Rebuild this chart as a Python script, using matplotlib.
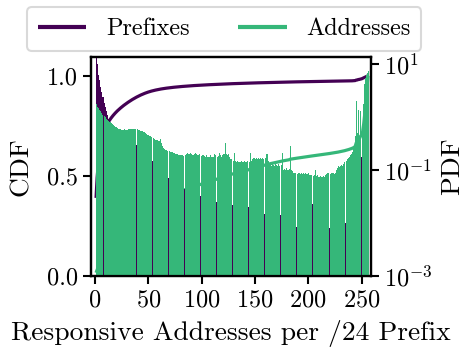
import numpy as np
import matplotlib
matplotlib.use("Agg")
import matplotlib.pyplot as plt
from matplotlib.ticker import FixedLocator, NullLocator

plt.rcParams.update({
    "font.family": "serif",
    "font.serif": ["cmr10"],
    "mathtext.fontset": "cm",
    "axes.formatter.use_mathtext": True,
    "axes.unicode_minus": False,
})

# Responsive addresses per /24 prefix
counts = list(range(1, 257))

# PDF of prefixes (%) per responsive-address count
prefix_pdf = [
    39.0, 10.0, 6.4, 5.0, 3.8, 3.0, 2.4, 1.9, 1.6, 1.3, 1.1, 0.95, 0.85,
    0.78, 0.74, 0.70, 0.66, 0.62, 0.59, 0.56, 0.53, 0.50, 0.48,
    0.46, 0.45, 0.43, 0.42, 0.40, 0.39, 0.38, 0.37, 0.36, 0.35, 0.34, 0.33,
    0.32, 0.31, 0.30, 0.29, 0.28, 0.27, 0.26, 0.25, 0.24, 0.23, 0.22, 0.21, 0.20, 0.19, 0.18, 0.17,
    0.16, 0.15, 0.14, 0.135, 0.13, 0.12, 0.115, 0.11, 0.105, 0.10,
    0.095, 0.09, 0.085, 0.082, 0.078, 0.075, 0.072, 0.07, 0.067, 0.064,
    0.062, 0.06, 0.058, 0.056, 0.054, 0.052, 0.05, 0.049, 0.048, 0.047,
    0.046, 0.045, 0.044, 0.043, 0.042, 0.041, 0.04, 0.039,
    0.038, 0.037, 0.036, 0.035, 0.034, 0.034, 0.033, 0.032, 0.032, 0.031,
    0.03, 0.03, 0.029, 0.029, 0.028, 0.028, 0.027, 0.027, 0.026, 0.026,
    0.028, 0.026, 0.025, 0.025, 0.028, 0.024, 0.024, 0.023, 0.023, 0.023,
    0.022, 0.03, 0.022, 0.022, 0.021, 0.021, 0.021, 0.02, 0.022, 0.02,
    0.02, 0.02, 0.019, 0.019, 0.019, 0.018, 0.018, 0.018, 0.02, 0.018,
    0.017, 0.017, 0.017, 0.02, 0.022, 0.017, 0.017, 0.016, 0.016, 0.016,
    0.016, 0.016, 0.015, 0.015, 0.015, 0.015, 0.015, 0.015, 0.015, 0.015,
    0.015, 0.014, 0.014, 0.014, 0.014, 0.014, 0.014, 0.014, 0.014, 0.014,
    0.014, 0.014, 0.014, 0.0145, 0.0145, 0.02, 0.011, 0.011, 0.011, 0.011,
    0.011, 0.011, 0.011, 0.03,
    0.011, 0.01, 0.01, 0.009, 0.0085, 0.0083, 0.009, 0.009, 0.0085, 0.009,
    0.0085, 0.009, 0.0085, 0.009, 0.0085, 0.009, 0.0085, 0.009, 0.009, 0.023,
    0.008, 0.008, 0.01, 0.008, 0.008, 0.0075, 0.0075, 0.0075, 0.0075, 0.0075,
    0.0075, 0.0075, 0.0075, 0.0075, 0.023, 0.008, 0.008, 0.0085, 0.0085, 0.009,
    0.009, 0.0093, 0.0093, 0.0093, 0.0093, 0.0093, 0.0093, 0.0093, 0.0093, 0.0093,
    0.01, 0.011, 0.012, 0.013, 0.014, 0.015, 0.016, 0.02, 0.025,
    0.04, 0.06, 0.25, 0.07, 0.2, 0.06, 0.18, 0.1, 0.25, 0.2, 0.25, 0.25, 0.3, 0.3,
]

# PDF of addresses (%) per responsive-address count
address_pdf = [
    1.75, 1.6, 1.48, 1.38, 1.29, 1.2, 1.12, 1.06, 1.0, 0.95, 0.9, 0.86, 0.83,
    0.80, 0.77, 0.74, 0.71, 0.69, 0.67, 0.65, 0.63, 0.61, 0.59,
    0.58, 0.57, 0.58, 0.59, 0.58, 0.57, 0.58, 0.59, 0.60, 0.59, 0.60, 0.61,
    0.60, 0.61, 0.60, 0.59, 0.58, 0.57, 0.56, 0.55, 0.54, 0.53,
    0.52, 0.50, 0.49, 0.47, 0.46, 0.45, 0.44, 0.42, 0.41, 0.39,
    0.38, 0.37, 0.38, 0.36, 0.35, 0.39, 0.33, 0.29, 0.26,
    0.25, 0.245, 0.24, 0.235, 0.23, 0.225, 0.22, 0.22, 0.215, 0.21,
    0.205, 0.20, 0.20, 0.195, 0.19, 0.19,
    0.19, 0.19, 0.185, 0.19, 0.2, 0.21, 0.205, 0.2, 0.21, 0.2,
    0.195, 0.19, 0.2, 0.21, 0.2, 0.195, 0.19, 0.2, 0.185, 0.19,
    0.19, 0.185, 0.18, 0.19, 0.18, 0.175, 0.18, 0.19, 0.18, 0.175,
    0.18, 0.2, 0.19, 0.18, 0.185, 0.21, 0.19, 0.18, 0.19, 0.2,
    0.2, 0.32, 0.2, 0.19, 0.2, 0.18, 0.16, 0.16, 0.15, 0.21,
    0.15, 0.145, 0.15, 0.14, 0.145, 0.14, 0.15, 0.145, 0.14, 0.15,
    0.145, 0.14, 0.15, 0.14, 0.21, 0.15, 0.16, 0.17, 0.17, 0.165,
    0.17, 0.16, 0.17, 0.165, 0.17, 0.16, 0.17, 0.165, 0.17, 0.2,
    0.2, 0.15, 0.13, 0.125, 0.12, 0.13, 0.125, 0.12, 0.13, 0.125,
    0.12, 0.13, 0.12, 0.125, 0.21, 0.10, 0.105, 0.10, 0.11, 0.10,
    0.10, 0.105, 0.29, 0.1, 0.095, 0.09, 0.09, 0.087, 0.085, 0.09,
    0.087, 0.085, 0.09, 0.085, 0.088, 0.085, 0.09, 0.086, 0.085, 0.088,
    0.08, 0.082, 0.08, 0.078, 0.08, 0.1, 0.078, 0.08, 0.076, 0.075,
    0.078, 0.076, 0.075, 0.078, 0.076, 0.08, 0.085, 0.09, 0.088, 0.085,
    0.09, 0.088, 0.09, 0.085, 0.09, 0.1, 0.11, 0.12, 0.115, 0.12,
    0.125, 0.12, 0.13, 0.14, 0.15, 0.16, 0.17, 0.18, 0.19, 0.2,
    0.22, 0.25, 0.3, 0.45, 2.0, 0.5, 1.4, 0.4, 1.3, 0.7, 1.8, 4.2, 5.5, 6.3, 7.0, 7.5,
]

series_names = ["Prefixes", "Addresses"]
colors = ["#440154", "#35b779"]
bar_widths = [1.0, 0.94]

x = np.array(counts)
pdfs = [np.array(prefix_pdf), np.array(address_pdf)]
cdfs = [np.cumsum(p) / p.sum() for p in pdfs]

fig = plt.figure(figsize=(4.69, 3.48), dpi=100)
ax = fig.add_axes([0.195, 0.207, 0.595, 0.630])
ax2 = ax.twinx()

for cdf, c, name in zip(cdfs, colors, series_names):
    ax.plot(x, cdf, color=c, lw=2.3, label=name, solid_capstyle="butt")

for pdf, c, w in zip(pdfs, colors, bar_widths):
    ax2.bar(x, pdf, width=w, align="edge", color=c, linewidth=0, snap=True)

ax.set_xlim(-3.3, 258.4)
ax.set_ylim(0, 1.095)
ax2.set_yscale("log")
ax2.set_ylim(1e-3, 14)

ax.set_xticks([0, 50, 100, 150, 200, 250])
ax.set_yticks([0.0, 0.5, 1.0])
ax.set_yticklabels(["0.0", "0.5", "1.0"])
ax2.yaxis.set_major_locator(FixedLocator([1e-3, 1e-1, 1e1]))
ax2.yaxis.set_minor_locator(NullLocator())

fs = 17.5
for a in (ax, ax2):
    a.tick_params(labelsize=fs, length=6, width=1.5, direction="out")
    for s in a.spines.values():
        s.set_linewidth(1.6)
        s.set_color("black")
ax.tick_params(axis="x", pad=4)

ax.set_xlabel("Responsive Addresses per /24 Prefix", fontsize=19.8, labelpad=6)
ax.set_ylabel("CDF", fontsize=19.8, labelpad=10)
ax2.set_ylabel("PDF", fontsize=19.8, labelpad=6)

handles, labels = ax.get_legend_handles_labels()
leg = fig.legend(handles, labels, loc="lower center", bbox_to_anchor=(0.478, 0.818),
                 ncol=2, fontsize=fs, frameon=True, fancybox=True,
                 handlelength=2.0, columnspacing=2.0, borderpad=0.45,
                 handletextpad=0.8)
leg.get_frame().set_edgecolor("#d0d0d0")
leg.get_frame().set_linewidth(1.5)
for h in leg.get_lines():
    h.set_linewidth(3)

fig.savefig("out.png", dpi=100)
